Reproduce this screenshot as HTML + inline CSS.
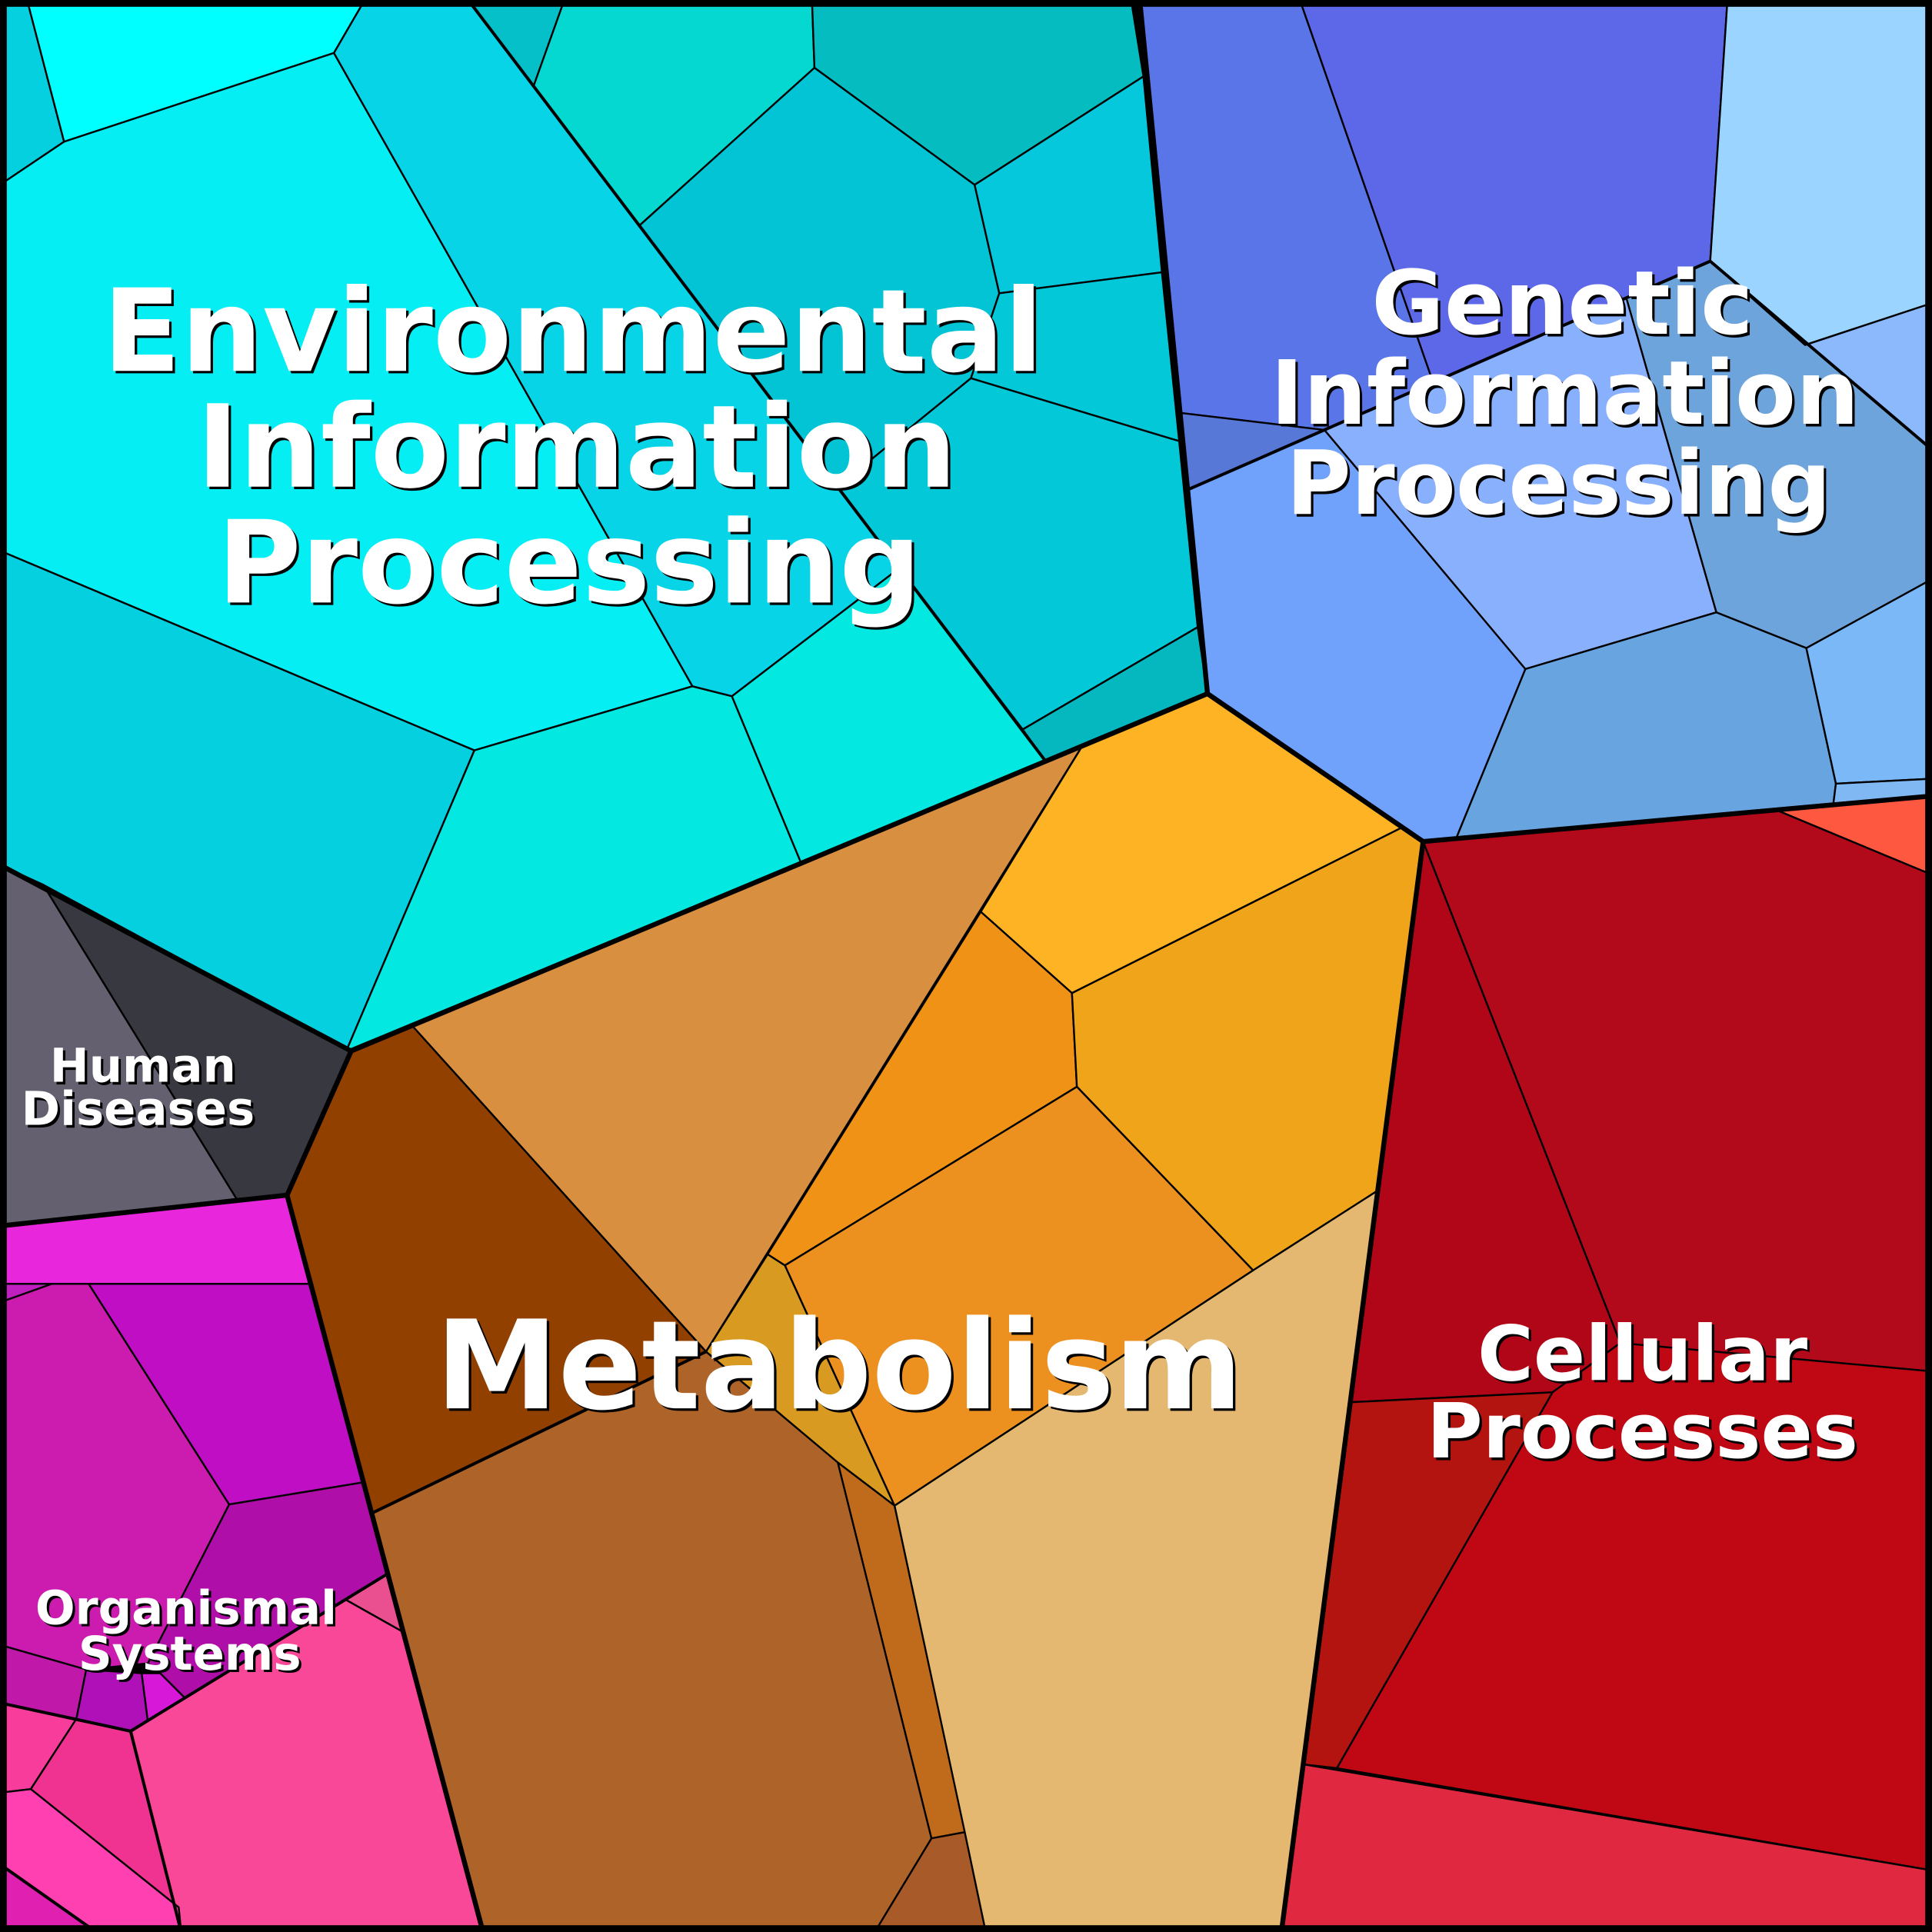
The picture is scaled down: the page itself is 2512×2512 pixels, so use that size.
<!DOCTYPE html>
<html><head><meta charset="utf-8"><style>
html,body{margin:0;padding:0;background:#000;}
svg{display:block;}
text{font-family:"DejaVu Sans","Liberation Sans",sans-serif;font-weight:bold;fill:#fff;text-anchor:middle;}
.s{fill:#000;}
</style></head><body>
<svg width="2512" height="2512" viewBox="0 0 1568 1568" xmlns="http://www.w3.org/2000/svg">
<g stroke="#000" stroke-width="1.5" stroke-linejoin="round">
<!-- Environmental -->
<polygon fill="#05d0e0" points="0,0 22,0 52,115 0,150"/>
<polygon fill="#00ffff" points="22,0 296,0 271,43 52,115"/>
<polygon fill="#05eef4" points="0,150 52,115 271,43 562,557 385,609 0,447"/>
<polygon fill="#05d0e0" points="0,447 385,609 281,853 0,702"/>
<polygon fill="#03e8e0" points="385,609 562,557 594,565 650,700 281,853"/>
<polygon fill="#03e8e0" points="594,565 730,461 848,617 650,700"/>
<polygon fill="#08d4e8" points="271,43 296,0 380,0 730,461 594,565 562,557"/>
<polygon fill="#05c0c8" points="380,0 458,0 433,70"/>
<polygon fill="#05d8d0" points="458,0 659,0 661,55 519,183 433,70"/>
<polygon fill="#05bcc0" points="659,0 918,0 928,62 791,150 661,55"/>
<polygon fill="#02c4d4" points="661,55 791,150 811,238 788,307 680,395 519,183"/>
<polygon fill="#06c8dc" points="791,150 928,62 943,221 811,238"/>
<polygon fill="#02c8d8" points="811,238 943,221 957,358 788,307"/>
<polygon fill="#02c8d8" points="788,307 957,358 972,509 830,592 680,395"/>
<polygon fill="#05b8c0" points="830,592 972,509 980,563 848,617"/>
<!-- Genetic -->
<polygon fill="#5a75e8" points="925,0 1055,0 1163,310 1075,349 957,335"/>
<polygon fill="#5c68e8" points="1055,0 1402,0 1388,212 1163,310"/>
<polygon fill="#9ad4ff" points="1402,0 1568,0 1568,246 1465,280 1388,212"/>
<polygon fill="#5878d8" points="957,335 1075,349 965,397"/>
<polygon fill="#70a2fc" points="965,397 1075,349 1238,543 1182,680 1155,683 980,563"/>
<polygon fill="#88b0fc" points="1075,349 1163,310 1320,242 1393,497 1238,543"/>
<polygon fill="#6ea4dc" points="1320,242 1388,212 1568,365 1568,470 1466,526 1393,497"/>
<polygon fill="#8cb8fc" points="1388,212 1465,280 1568,246 1568,365"/>
<polygon fill="#68a4e0" points="1238,543 1393,497 1466,526 1490,636 1488,652 1182,680"/>
<polygon fill="#7ab8f8" points="1466,526 1568,470 1568,632 1490,636"/>
<polygon fill="#80b8f4" points="1490,636 1568,632 1568,646 1488,652"/>
<!-- Cellular -->
<polygon fill="#ff5840" points="1443,658 1568,646 1568,710"/>
<polygon fill="#b20a1a" points="1155,683 1443,658 1568,710 1568,1113 1315,1090"/>
<polygon fill="#b00618" points="1155,683 1315,1090 1260,1130 1097,1138 1117,967"/>
<polygon fill="#c00814" points="1315,1090 1568,1113 1568,1518 1085,1435 1260,1130"/>
<polygon fill="#b41410" points="1097,1138 1260,1130 1085,1435 1058,1432"/>
<polygon fill="#e02840" points="1058,1432 1568,1518 1568,1568 1040,1568"/>
<!-- Metabolism -->
<polygon fill="#d89040" points="335,833 878,606 573,1097"/>
<polygon fill="#fdb324" points="878,606 980,563 1137,672 870,806 796,740"/>
<polygon fill="#ef9216" points="796,740 870,806 874,882 637,1027 623,1018"/>
<polygon fill="#efa41a" points="870,806 1137,672 1155,683 1117,967 1017,1031 874,882"/>
<polygon fill="#ec9020" points="637,1027 874,882 1017,1031 726,1222"/>
<polygon fill="#d89a20" points="573,1097 623,1018 637,1027 726,1222 680,1187"/>
<polygon fill="#e4b870" points="726,1222 1017,1031 1117,967 1040,1568 800,1568"/>
<polygon fill="#924000" points="285,853 335,833 573,1097 302,1228 233,970"/>
<polygon fill="#ae6428" points="302,1228 573,1097 680,1187 756,1492 710,1568 392,1568"/>
<polygon fill="#c06a1c" points="680,1187 726,1222 783,1487 756,1492"/>
<polygon fill="#a85a28" points="756,1492 783,1487 800,1568 710,1568"/>
<!-- Human diseases -->
<polygon fill="#646070" points="0,702 35,718 192,973 0,995"/>
<polygon fill="#383840" points="35,718 285,853 233,970 192,973"/>
<!-- Organismal -->
<polygon fill="#e826dc" points="0,995 233,970 251,1042 0,1042"/>
<polygon fill="#c020c0" points="0,1042 42,1042 0,1057"/>
<polygon fill="#cc1cb0" points="0,1057 42,1042 72,1042 186,1221 120,1350 70,1355 0,1335"/>
<polygon fill="#c00ec4" points="72,1042 251,1042 295,1203 186,1221"/>
<polygon fill="#b00ea8" points="186,1221 295,1203 315,1277 280,1298 150,1378 130,1358 120,1350"/>
<polygon fill="#c018a8" points="0,1335 70,1355 62,1395 0,1382"/>
<polygon fill="#b010b8" points="70,1355 115,1358 120,1397 106,1405 62,1395"/>
<polygon fill="#d818d8" points="115,1358 130,1358 150,1378 120,1397"/>
<polygon fill="#ea5090" points="280,1298 315,1277 328,1325"/>
<polygon fill="#fa4898" points="106,1405 150,1378 280,1298 328,1325 392,1568 147,1568"/>
<polygon fill="#f83c9c" points="0,1382 62,1395 25,1452 0,1455"/>
<polygon fill="#f03290" points="62,1395 106,1405 147,1568 145,1548 25,1452"/>
<polygon fill="#ff40b0" points="0,1455 25,1452 145,1548 147,1568 78,1568 0,1513"/>
<polygon fill="#e020b0" points="0,1513 78,1568 0,1568"/>
</g>
<g fill="none" stroke="#000" stroke-width="4" stroke-linejoin="round">
<polyline points="0,702 285,853 980,563 925,0"/>
<polyline points="980,563 1155,683 1568,646"/>
<polyline points="1155,683 1040,1568"/>
<polyline points="285,853 233,970 392,1568"/>
<polyline points="0,995 233,970"/>
<polyline points="380,0 848,617" stroke-width="2.5"/>
<polyline points="965,397 1388,212 1568,365" stroke-width="2.5"/>
<polyline points="302,1228 573,1097" stroke-width="2.5"/>
<polyline points="0,1382 106,1405 315,1277" stroke-width="2.5"/>
<polyline points="0,1513 78,1568" stroke-width="2.5"/>
<polyline points="106,1405 147,1568" stroke-width="2.5"/>
</g>
<rect x="2.5" y="2.5" width="1563" height="1563" fill="none" stroke="#000" stroke-width="6"/>
<g font-size="93">
<text class="s" x="467" y="303">Environmental</text><text x="465" y="301">Environmental</text>
<text class="s" x="470" y="397">Information</text><text x="468" y="395">Information</text>
<text class="s" x="464" y="491">Processing</text><text x="462" y="489">Processing</text>
</g>
<g font-size="72">
<text class="s" x="1270" y="273">Genetic</text><text x="1268" y="271">Genetic</text>
<text class="s" x="1272" y="346">Information</text><text x="1270" y="344">Information</text>
<text class="s" x="1267" y="419">Processing</text><text x="1265" y="417">Processing</text>
</g>
<g font-size="100">
<text class="s" x="683" y="1145">Metabolism</text><text x="681" y="1143">Metabolism</text>
</g>
<g font-size="62">
<text class="s" x="1335" y="1122">Cellular</text><text x="1333" y="1120">Cellular</text>
<text class="s" x="1335" y="1185">Processes</text><text x="1333" y="1183">Processes</text>
</g>
<g font-size="38">
<text class="s" x="118" y="880">Human</text><text x="116" y="878">Human</text>
<text class="s" x="114" y="915">Diseases</text><text x="112" y="913">Diseases</text>
<text class="s" x="153" y="1320">Organismal</text><text x="151" y="1318">Organismal</text>
<text class="s" x="156" y="1357">Systems</text><text x="154" y="1355">Systems</text>
</g>
</svg>
</body></html>
